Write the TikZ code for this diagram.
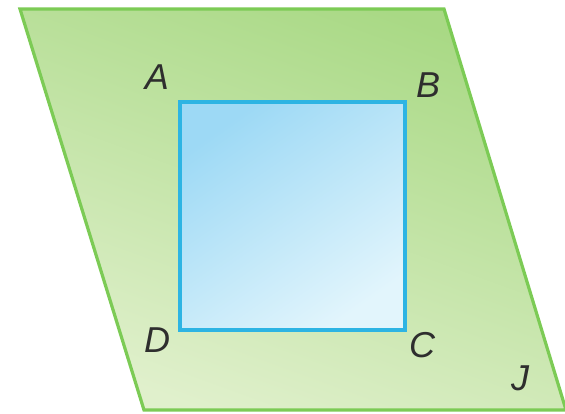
\documentclass[tikz,border=0pt]{standalone}
\usepackage{fontspec}
\setmainfont{Liberation Sans}
\usepackage{tikz}
\usetikzlibrary{positioning,calc}
\definecolor{plEdge}{HTML}{7CCB55}
\definecolor{plDark}{HTML}{A9D985}
\definecolor{plLight}{HTML}{E0F0CC}
\definecolor{sqEdge}{HTML}{2DB4E3}
\definecolor{sqDark}{HTML}{9DD9F5}
\definecolor{sqLight}{HTML}{E2F5FC}
\definecolor{lblText}{HTML}{2E2E2E}
\tikzset{
  plane/.style={draw=plEdge, line width=1.6pt, line join=miter,
    shading=axis, top color=plDark, bottom color=plLight, shading angle=-20},
  facebox/.style={draw=sqEdge, line width=2pt,
    shading=axis, top color=sqDark, bottom color=sqLight, shading angle=35},
  vlabel/.style={font=\fontsize{18}{20}\selectfont\itshape, text=lblText, inner sep=0pt}
}
\begin{document}
\begin{tikzpicture}[x=0.5pt, y=-0.5pt]
  \useasboundingbox (0,0) rectangle (565,413);
  % plane
  \coordinate (p1) at (20,9);
  \coordinate (p2) at (444,9);
  \coordinate (p3) at (566,410);
  \coordinate (p4) at (144,410);
  \path[plane] (p1) -- (p2) -- (p3) -- (p4) -- cycle;
  % square ABCD
  \coordinate (A) at (180,102);
  \coordinate (B) at (405,102);
  \coordinate (C) at (405,330);
  \coordinate (D) at (180,330);
  \path[facebox] (A) -- (B) -- (C) -- (D) -- cycle;
  % labels
  \node[vlabel] (lA) at (157,77) {A};
  \node[vlabel] (lB) at (428,85) {B};
  \node[vlabel] (lC) at (422,345) {C};
  \node[vlabel] (lD) at (157,340) {D};
  \node[vlabel] (lJ) at (520,378) {J};
\end{tikzpicture}
\end{document}
